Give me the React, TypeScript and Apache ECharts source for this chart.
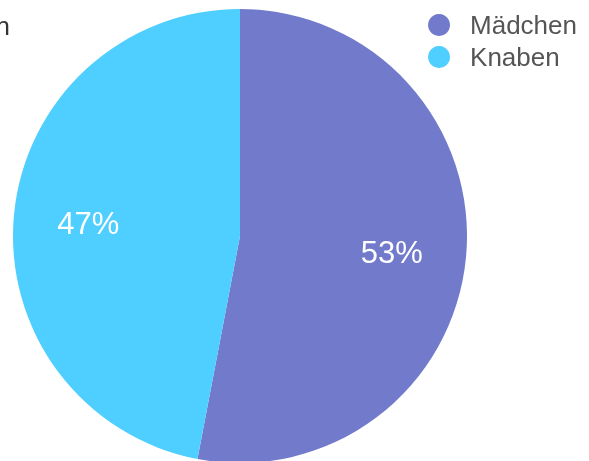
import React, { useEffect, useRef } from "react";
import * as echarts from "echarts";

const categories = ["Mädchen", "Knaben"];
const values = [53, 47];
const colors = ["#717acb", "#4fcfff"];
const titleText = "Anteil Mädchen und Knaben";

export default function App() {
  const ref = useRef<HTMLDivElement>(null);
  useEffect(() => {
    if (!ref.current) return;
    const chart = echarts.init(ref.current, null, { renderer: "svg" });
    const data = categories.map((name, i) => ({ name, value: values[i], itemStyle: { color: colors[i] } }));
    const font = "'Liberation Sans', Arial, Helvetica, sans-serif";
    chart.setOption({
      animation: false,
      textStyle: { fontFamily: font },
      legend: {
        data: categories,
        orient: "vertical",
        right: 7,
        top: 7,
        icon: "circle",
        itemWidth: 22,
        itemHeight: 22,
        itemGap: 6,
        textStyle: { fontSize: 26, color: "#555", fontFamily: font, padding: [0, 0, 0, 15] },
      },
      graphic: [
        {
          type: "text",
          x: 10,
          y: 13,
          style: {
            text: titleText,
            fill: "#333",
            font: "26px " + font,
            textAlign: "right",
            textVerticalAlign: "top",
          },
        },
      ],
      series: [
        {
          type: "pie",
          center: [240, 236],
          radius: [0, 227],
          startAngle: 90,
          label: { show: false },
          labelLine: { show: false },
          silent: true,
          legendHoverLink: false,
          data,
        },
        {
          type: "pie",
          center: [240, 238],
          radius: [72, 227],
          startAngle: 90,
          itemStyle: { color: "transparent" },
          label: {
            show: true,
            position: "inside",
            formatter: "{d}%",
            color: "#fff",
            fontSize: 31,
            fontFamily: font,
          },
          labelLine: { show: false },
          silent: true,
          data: categories.map((name, i) => ({ name, value: values[i], itemStyle: { color: "transparent" } })),
        },
      ],
    });
    return () => chart.dispose();
  }, []);
  return <div ref={ref} style={{ position: "fixed", left: 0, top: 0, width: 589, height: 461 }} />;
}
